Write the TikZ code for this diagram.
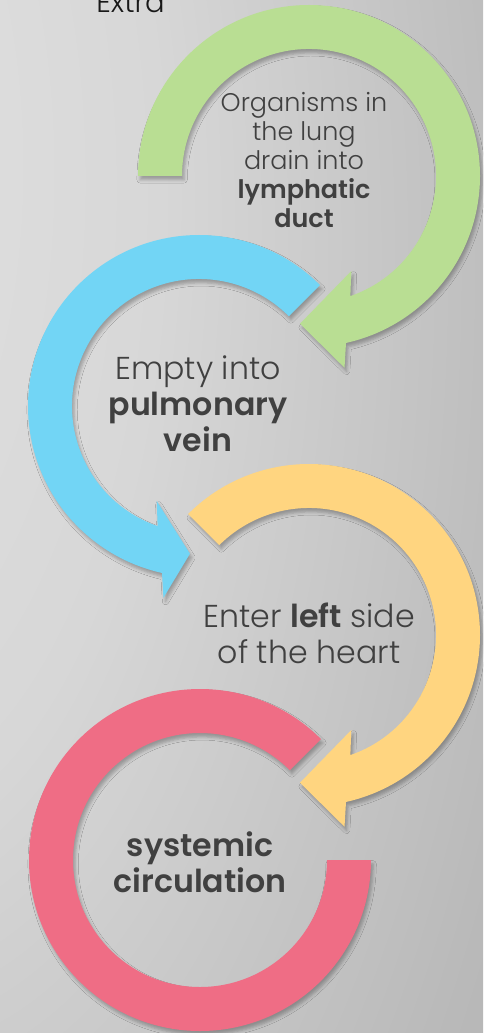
\documentclass[tikz,border=0pt]{standalone}
\usepackage{fontspec}
\setmainfont{Poppins Light}[BoldFont={Poppins SemiBold}]
\usetikzlibrary{shadows.blur}

\definecolor{lunggreen}{HTML}{B9DE93}
\definecolor{veinblue}{HTML}{72D5F5}
\definecolor{heartyellow}{HTML}{FFD580}
\definecolor{sysred}{HTML}{EF6D85}
\definecolor{txtgray}{HTML}{404040}
\definecolor{bglight}{HTML}{E4E4E4}
\definecolor{bgmid}{HTML}{B9B9B9}
\definecolor{bgdark}{HTML}{9C9C9C}
\definecolor{bgdeep}{HTML}{939393}

\pgfdeclareradialshading{bgshade}{\pgfpoint{-50bp}{20bp}}{%
  color(0bp)=(bglight); color(30bp)=(bglight!70!bgmid); color(60bp)=(bgmid);
  color(100bp)=(bgdark); color(130bp)=(bgdeep)}

\tikzset{
  ringarrow/.style={blur shadow={shadow xshift=1.2pt, shadow yshift=-2.2pt,
      shadow blur radius=1.8pt, shadow opacity=28}},
  steptext/.style={text=txtgray, align=center, inner sep=0pt},
}

\begin{document}
\begin{tikzpicture}[x=0.02cm, y=0.02cm]
  % Background
  \useasboundingbox (0,0) rectangle (483,-1033);
  \shade[shading=bgshade] (0,0) rectangle (483,-1033);

  % Centres
  \coordinate (gc) at (309,-176);
  \coordinate (bc) at (199,-406);
  \coordinate (yc) at (309,-635);
  \coordinate (rc) at (200,-860);

  % Arrows
  \fill[lunggreen, ringarrow] ([shift={(180:171)}]gc)
    arc[start angle=180, end angle=-77.5, radius=171]
    -- ([shift={(-79.5:195)}]gc) -- ([shift={(-93.5:148)}]gc)
    -- ([shift={(-66:104)}]gc) -- ([shift={(-71:127)}]gc)
    arc[start angle=-71, end angle=180, radius=127] -- cycle;
  \fill[veinblue, ringarrow] ([shift={(45:171)}]bc)
    arc[start angle=45, end angle=257.5, radius=171]
    -- ([shift={(259.5:195)}]bc) -- ([shift={(266.5:148)}]bc)
    -- ([shift={(246:104)}]bc) -- ([shift={(251:127)}]bc)
    arc[start angle=251, end angle=45, radius=127] -- cycle;
  \fill[heartyellow, ringarrow] ([shift={(135:171)}]yc)
    arc[start angle=135, end angle=-77.5, radius=171]
    -- ([shift={(-79.5:195)}]yc) -- ([shift={(-93.5:148)}]yc)
    -- ([shift={(-66:104)}]yc) -- ([shift={(-71:127)}]yc)
    arc[start angle=-71, end angle=135, radius=127] -- cycle;
  \fill[sysred, ringarrow] ([shift={(45:171)}]rc)
    arc[start angle=45, end angle=360, radius=171]
    -- ([shift={(0:127)}]rc)
    arc[start angle=360, end angle=45, radius=127] -- cycle;

  % Nodes
  \node[anchor=base west, text=black!90, inner sep=0pt,
    font=\fontsize{16.5}{19}\selectfont] (extra) at (96,-13) {Extra};
  \node[steptext, font=\fontsize{14.5}{16.5}\selectfont] (lung) at (304,-160)
    {Organisms in\\the lung\\drain into\\\textbf{lymphatic}\\\textbf{duct}};
  \node[steptext, font=\fontsize{18}{20.5}\selectfont] (vein) at (198,-404)
    {Empty into\\\textbf{pulmonary}\\\textbf{vein}};
  \node[steptext, font=\fontsize{18}{20.5}\selectfont] (heart) at (309,-633)
    {Enter \textbf{left} side\\of the heart};
  \node[steptext, font=\fontsize{18}{20.5}\selectfont] (sys) at (200,-862)
    {\textbf{systemic}\\\textbf{circulation}};
\end{tikzpicture}
\end{document}
